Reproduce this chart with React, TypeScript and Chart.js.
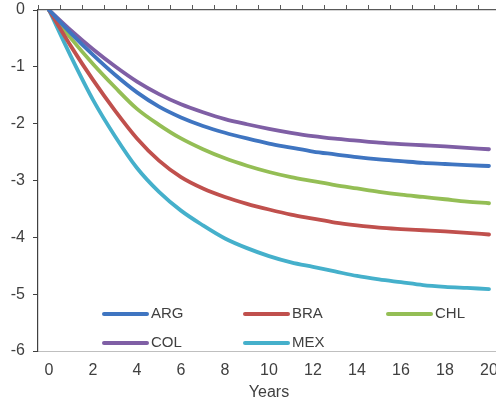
import React, { useEffect, useRef } from "react";
import { Chart, registerables } from "chart.js";

Chart.register(...registerables);

const years = ["0","1","2","3","4","5","6","7","8","9","10","11","12","13","14","15","16","17","18","19","20"];
const seriesNames = ["ARG", "BRA", "CHL", "COL", "MEX"];
const ARG = [0, -0.41, -0.79, -1.14, -1.45, -1.70, -1.89, -2.04, -2.16, -2.26, -2.35, -2.42, -2.49, -2.54, -2.59, -2.63, -2.66, -2.69, -2.71, -2.73, -2.745];
const BRA = [0, -0.64, -1.23, -1.77, -2.26, -2.65, -2.94, -3.14, -3.29, -3.41, -3.51, -3.60, -3.67, -3.74, -3.79, -3.83, -3.855, -3.875, -3.895, -3.92, -3.95];
const CHL = [0, -0.50, -0.95, -1.36, -1.74, -2.02, -2.26, -2.45, -2.61, -2.74, -2.85, -2.94, -3.01, -3.08, -3.14, -3.20, -3.25, -3.29, -3.33, -3.37, -3.40];
const COL = [0, -0.36, -0.69, -0.99, -1.26, -1.48, -1.66, -1.80, -1.92, -2.01, -2.09, -2.16, -2.22, -2.265, -2.30, -2.335, -2.36, -2.38, -2.40, -2.425, -2.45];
const MEX = [0, -0.82, -1.58, -2.22, -2.78, -3.20, -3.53, -3.79, -4.02, -4.19, -4.33, -4.44, -4.52, -4.60, -4.68, -4.74, -4.79, -4.84, -4.87, -4.89, -4.91];
const seriesValues = [ARG, BRA, CHL, COL, MEX];
const seriesColors = ["#3F75C1", "#C0504D", "#94BE55", "#7F5FA5", "#45B0CB"];
const yTickMin = -6;
const yTickMax = 0;
const xTitle = "Years";

const FONT = "'Liberation Sans', Arial, sans-serif";

const insideLegend = {
  id: "insideLegend",
  afterDatasetsDraw(chart: any) {
    const ctx = chart.ctx;
    const colX = [103, 244, 387];
    const rowY = [314, 343];
    ctx.save();
    chart.data.datasets.forEach((ds: any, i: number) => {
      const col = i % 3;
      const row = Math.floor(i / 3);
      const x0 = colX[col];
      const y = rowY[row];
      ctx.strokeStyle = ds.borderColor;
      ctx.lineWidth = 4;
      ctx.lineCap = "round";
      ctx.beginPath();
      ctx.moveTo(x0 + 1, y);
      ctx.lineTo(x0 + 44, y);
      ctx.stroke();
      ctx.fillStyle = "#404040";
      ctx.font = `15px ${FONT}`;
      ctx.textBaseline = "middle";
      ctx.textAlign = "left";
      ctx.fillText(ds.label, x0 + 48, y);
    });
    ctx.restore();
  },
};

export default function App() {
  const ref = useRef<HTMLCanvasElement | null>(null);
  useEffect(() => {
    document.body.style.margin = "0";
    const canvas = ref.current!;
    const chart = new Chart(canvas, {
      type: "line",
      data: {
        labels: years,
        datasets: seriesNames.map((name, i) => ({
          label: name,
          data: seriesValues[i],
          borderColor: seriesColors[i],
          backgroundColor: seriesColors[i],
          borderWidth: 3.8,
          pointRadius: 0,
          borderCapStyle: "round" as const,
          borderJoinStyle: "round" as const,
          cubicInterpolationMode: "monotone" as const,
          xAxisID: "x",
          yAxisID: "y",
        })),
      },
      options: {
        responsive: false,
        animation: false,
        devicePixelRatio: 1,
        layout: { padding: 0 },
        plugins: {
          legend: { display: false },
          tooltip: { enabled: false },
        },
        scales: {
          x: {
            type: "category",
            position: "bottom",
            offset: true,
            grid: { display: false, drawTicks: false },
            border: { display: true, color: "#BFBFBF", width: 1 },
            ticks: {
              autoSkip: false,
              maxRotation: 0,
              padding: 10,
              color: "#404040",
              font: { family: FONT, size: 16 },
              callback: (v: any, i: number) => (i % 2 === 0 ? years[i] : ""),
            },
            title: {
              display: true,
              text: xTitle,
              color: "#404040",
              font: { family: FONT, size: 16 },
              padding: { top: 0, bottom: 1 },
            },
            afterFit: (s: any) => {
              s.height = 52;
              s.paddingLeft = 0;
              s.paddingRight = 0;
            },
          },
          xTop: {
            type: "category",
            position: "top",
            offset: true,
            grid: {
              offset: true,
              drawOnChartArea: false,
              drawTicks: true,
              tickLength: 5,
              color: "#595959",
              lineWidth: 1,
            },
            border: { display: true, color: "#595959", width: 1.2 },
            ticks: { display: false },
            afterFit: (s: any) => {
              s.height = 10;
              s.paddingLeft = 0;
              s.paddingRight = 0;
            },
          },
          y: {
            type: "linear",
            position: "left",
            min: yTickMin,
            max: yTickMax,
            grid: {
              drawOnChartArea: false,
              drawTicks: true,
              tickLength: 5,
              color: "#404040",
              lineWidth: 1,
            },
            border: { display: true, color: "#404040", width: 1.2 },
            ticks: {
              stepSize: 1,
              padding: 8,
              color: "#404040",
              font: { family: FONT, size: 16 },
              callback: (v: any) => String(v),
            },
            afterFit: (s: any) => {
              s.width = 38;
              s.paddingTop = 0;
              s.paddingBottom = 0;
            },
          },
        },
      },
      plugins: [insideLegend],
    });
    return () => chart.destroy();
  }, []);

  return (
    <div style={{ position: "fixed", left: 0, top: 0, width: 496, height: 403, overflow: "hidden", background: "#fff" }}>
      <canvas ref={ref} width={500} height={403} style={{ display: "block", width: 500, height: 403 }} />
    </div>
  );
}
